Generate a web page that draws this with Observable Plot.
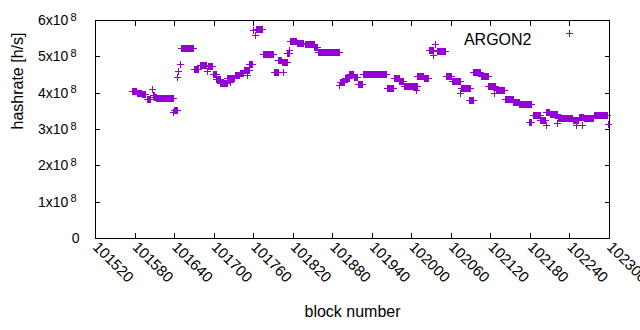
<!DOCTYPE html>
<html><head><meta charset="utf-8">
<script src="https://cdn.jsdelivr.net/npm/d3@7"></script>
<script src="https://cdn.jsdelivr.net/npm/@observablehq/plot@0.6"></script>
<style>body{margin:0;background:#fff}</style>
</head><body><div id="chart"></div>
<script>
// Runs of consecutive blocks sharing the same hashrate (units of 10^8 h/s)
const runStart = [101576,101583,101591,101599,101606,101608,101610,101613,101639,101640,101644,101646,101649,101651,101670,101679,101690,101691,101699,101704,101710,101721,101725,101732,101740,101746,101750,101754,101760,101763,101765,101775,101791,101798,101804,101805,101812,101814,101816,101826,101838,101853,101858,101891,101892,101899,101906,101913,101919,101926,101963,101973,101982,101989,102007,102009,102019,102027,102033,102036,102039,102052,102061,102074,102075,102087,102094,102105,102117,102125,102128,102142,102155,102164,102179,102184,102196,102204,102205,102210,102221,102222,102245,102250,102254,102259,102262,102277,102298];
const runEnd   = [101582,101590,101596,101603,101606,101609,101612,101638,101639,101645,101644,101646,101649,101668,101677,101688,101690,101698,101703,101709,101720,101731,101725,101739,101744,101753,101750,101759,101760,101763,101773,101790,101797,101803,101811,101805,101815,101814,101825,101836,101852,101857,101890,101891,101898,101905,101912,101918,101925,101961,101972,101981,101988,102008,102007,102018,102025,102033,102033,102036,102051,102060,102074,102074,102089,102093,102104,102116,102127,102125,102141,102154,102163,102181,102182,102195,102203,102204,102209,102221,102221,102244,102253,102250,102261,102259,102276,102297,102298];
const runHashrate = [4.05,4.0,3.96,3.83,4.1,3.94,3.88,3.84,3.47,3.52,4.43,4.6,4.79,5.23,4.65,4.77,4.6,4.73,4.51,4.38,4.27,4.41,4.3,4.5,4.55,4.62,4.5,4.78,5.73,5.59,5.75,5.06,4.56,4.9,4.84,4.57,5.1,5.17,5.43,5.38,5.35,5.26,5.12,4.21,4.3,4.4,4.51,4.42,4.24,4.51,4.13,4.4,4.32,4.17,4.07,4.46,4.4,5.17,5.03,5.35,5.16,4.45,4.33,3.98,4.12,3.79,4.56,4.46,4.17,3.98,4.08,3.83,3.74,3.68,3.2,3.39,3.25,3.11,3.47,3.41,3.17,3.3,3.24,3.11,3.34,3.11,3.3,3.38,3.14];
const xTicks = [101520,101580,101640,101700,101760,101820,101880,101940,102000,102060,102120,102180,102240,102300];
const yTicks = [0,1,2,3,4,5,6];
const seriesName = "ARGON2";

const points = [];
runStart.forEach((s, i) => {
  for (let b = s; b <= runEnd[i]; b++) points.push({block: b, hashrate: runHashrate[i]});
});

const plus = {draw(ctx, size) {
  const r = Math.sqrt(size / Math.PI);
  ctx.moveTo(-r, 0); ctx.lineTo(r, 0);
  ctx.moveTo(0, -r); ctx.lineTo(0, r);
}};
const color = "#9400d3";

const chart = Plot.plot({
  width: 640, height: 330,
  marginLeft: 95, marginRight: 31, marginTop: 20, marginBottom: 92,
  style: {fontFamily: "'Liberation Sans', Arial, sans-serif", fontSize: "14px", background: "white", color: "black"},
  x: {domain: [101520, 102300]},
  y: {domain: [0, 6]},
  marks: [
    Plot.frame({stroke: "black", strokeWidth: 1, shapeRendering: "crispEdges"}),
    Plot.axisX({anchor: "bottom", ticks: xTicks, tickSize: -5, tickFormat: () => "", label: null, shapeRendering: "crispEdges"}),
    Plot.axisX({anchor: "top", ticks: xTicks, tickSize: -5, tickFormat: () => "", label: null, shapeRendering: "crispEdges"}),
    Plot.axisY({anchor: "left", ticks: yTicks, tickSize: -5, tickFormat: () => "", label: null, shapeRendering: "crispEdges"}),
    Plot.axisY({anchor: "right", ticks: yTicks, tickSize: -5, tickFormat: () => "", label: null, shapeRendering: "crispEdges"}),
    Plot.axisX({anchor: "bottom", ticks: xTicks, tickSize: 0, tickPadding: 6, tickRotate: 45, tickFormat: d => String(d), label: null, fontSize: 15}),
    Plot.axisY({anchor: "left", ticks: yTicks, tickSize: 0, tickPadding: 16, tickFormat: d => d === 0 ? "0" : `${d}x10`, label: null, fontSize: 14}),
    Plot.text(["block number"], {frameAnchor: "bottom", dy: 78, fontSize: 16}),
    Plot.text(["hashrate [h/s]"], {frameAnchor: "left", dx: -78, rotate: -90, fontSize: 16}),
    Plot.dot(points, {x: "block", y: "hashrate", symbol: plus, r: 3.5, stroke: color, fill: "none", strokeWidth: 1, shapeRendering: "crispEdges"}),
    Plot.text([seriesName], {frameAnchor: "top-right", dx: -78, dy: 13, textAnchor: "end", fontSize: 16}),
    Plot.dot([seriesName], {frameAnchor: "top-right", dx: -40, dy: 13, symbol: plus, r: 3.5, stroke: color, fill: "none", strokeWidth: 1, shapeRendering: "crispEdges"})
  ]
});
d3.select(chart).selectAll('g[aria-label="y-axis tick label"] text').each(function() {
  const t = d3.select(this);
  if (t.text().endsWith("x10")) {
    t.append("tspan").attr("dx", 2).attr("dy", "-0.4em").attr("font-size", 11).text("8");
    t.attr("transform", (t.attr("transform") || "") + " translate(-3,0)");
  }
});
document.getElementById("chart").appendChild(chart);
</script>
</body></html>
